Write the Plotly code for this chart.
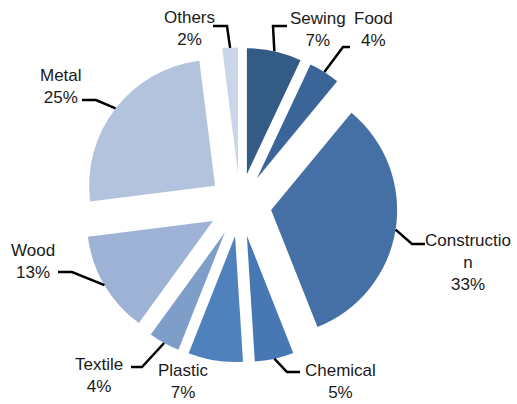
import math
import plotly.graph_objects as go

# Share of firms by sector (percent)
sectors = ["Sewing", "Food", "Construction", "Chemical", "Plastic",
           "Textile", "Wood", "Metal", "Others"]
shares = [7, 4, 33, 5, 7, 4, 13, 25, 2]
label_text = ["Sewing", "Food", "Constructio<br>n", "Chemical", "Plastic",
              "Textile", "Wood", "Metal", "Others"]

colors = ["#345a86", "#3b6499", "#4570a5", "#4878b4", "#4f81bd",
          "#7f9dc9", "#9db2d4", "#b3c3de", "#cad5e9"]

W, H = 517, 404
PULL = 0.25
CX, CY, R = 240.0, 205.0, 126.0  # pie centre and radius in pixels

# label placement: text centre (px) and leader elbow (start, corner) or None
label_layout = {
    "Sewing": ((318, 30), ((287, 26), (273, 26))),
    "Food": ((373, 30), ((350, 47), (343, 47))),
    "Construction": ((468, 262), ((425, 244), (412, 244))),
    "Chemical": ((340, 381), ((300, 372), (287, 372))),
    "Plastic": ((183, 381), None),
    "Textile": ((99, 375), ((131, 367), (142, 367))),
    "Wood": ((33, 261), ((58, 272), (72, 272))),
    "Metal": ((61, 87), ((82, 100), (96, 100))),
    "Others": ((189, 29), ((213, 26), (227, 26))),
}


def px(x, y):
    return x / W, 1 - y / H


half = R * (1 + PULL)
fig = go.Figure(go.Pie(
    labels=sectors,
    values=shares,
    sort=False,
    direction="clockwise",
    rotation=0,
    pull=[PULL] * len(shares),
    marker=dict(colors=colors, line=dict(width=0)),
    textinfo="none",
    hoverinfo="label+percent",
    showlegend=False,
    domain=dict(x=[(CX - half) / W, (CX + half) / W],
                y=[1 - (CY + half) / H, 1 - (CY - half) / H]),
))

total = sum(shares)
annotations = []
shapes = []
cum = 0
for name, txt, v in zip(sectors, label_text, shares):
    mid = (cum + v / 2) / total * 2 * math.pi
    cum += v
    # outer arc midpoint of the pulled slice
    dist = R * (1 + PULL)
    ex = CX + dist * math.sin(mid)
    ey = CY - dist * math.cos(mid)
    (tx, ty), leader = label_layout[name]
    pct = round(v / total * 100)
    ax, ay = px(tx, ty)
    annotations.append(dict(
        x=ax, y=ay, xref="paper", yref="paper",
        text=f"{txt}<br>{pct}%", showarrow=False,
        xanchor="center", yanchor="middle", align="center",
        font=dict(family="Liberation Sans, Arial, sans-serif", size=17,
                  color="#1a1a1a"),
    ))
    if leader:
        (sx, sy), (kx, ky) = leader
        p0, p1, p2 = px(sx, sy), px(kx, ky), px(ex, ey)
        shapes.append(dict(
            type="path", xref="paper", yref="paper",
            path=f"M {p0[0]} {p0[1]} L {p1[0]} {p1[1]} L {p2[0]} {p2[1]}",
            line=dict(color="#000000", width=2.5),
        ))

fig.update_layout(
    width=W, height=H,
    margin=dict(l=0, r=0, t=0, b=0),
    paper_bgcolor="white",
    plot_bgcolor="white",
    annotations=annotations,
    shapes=shapes,
)

fig.write_html("out.html")
